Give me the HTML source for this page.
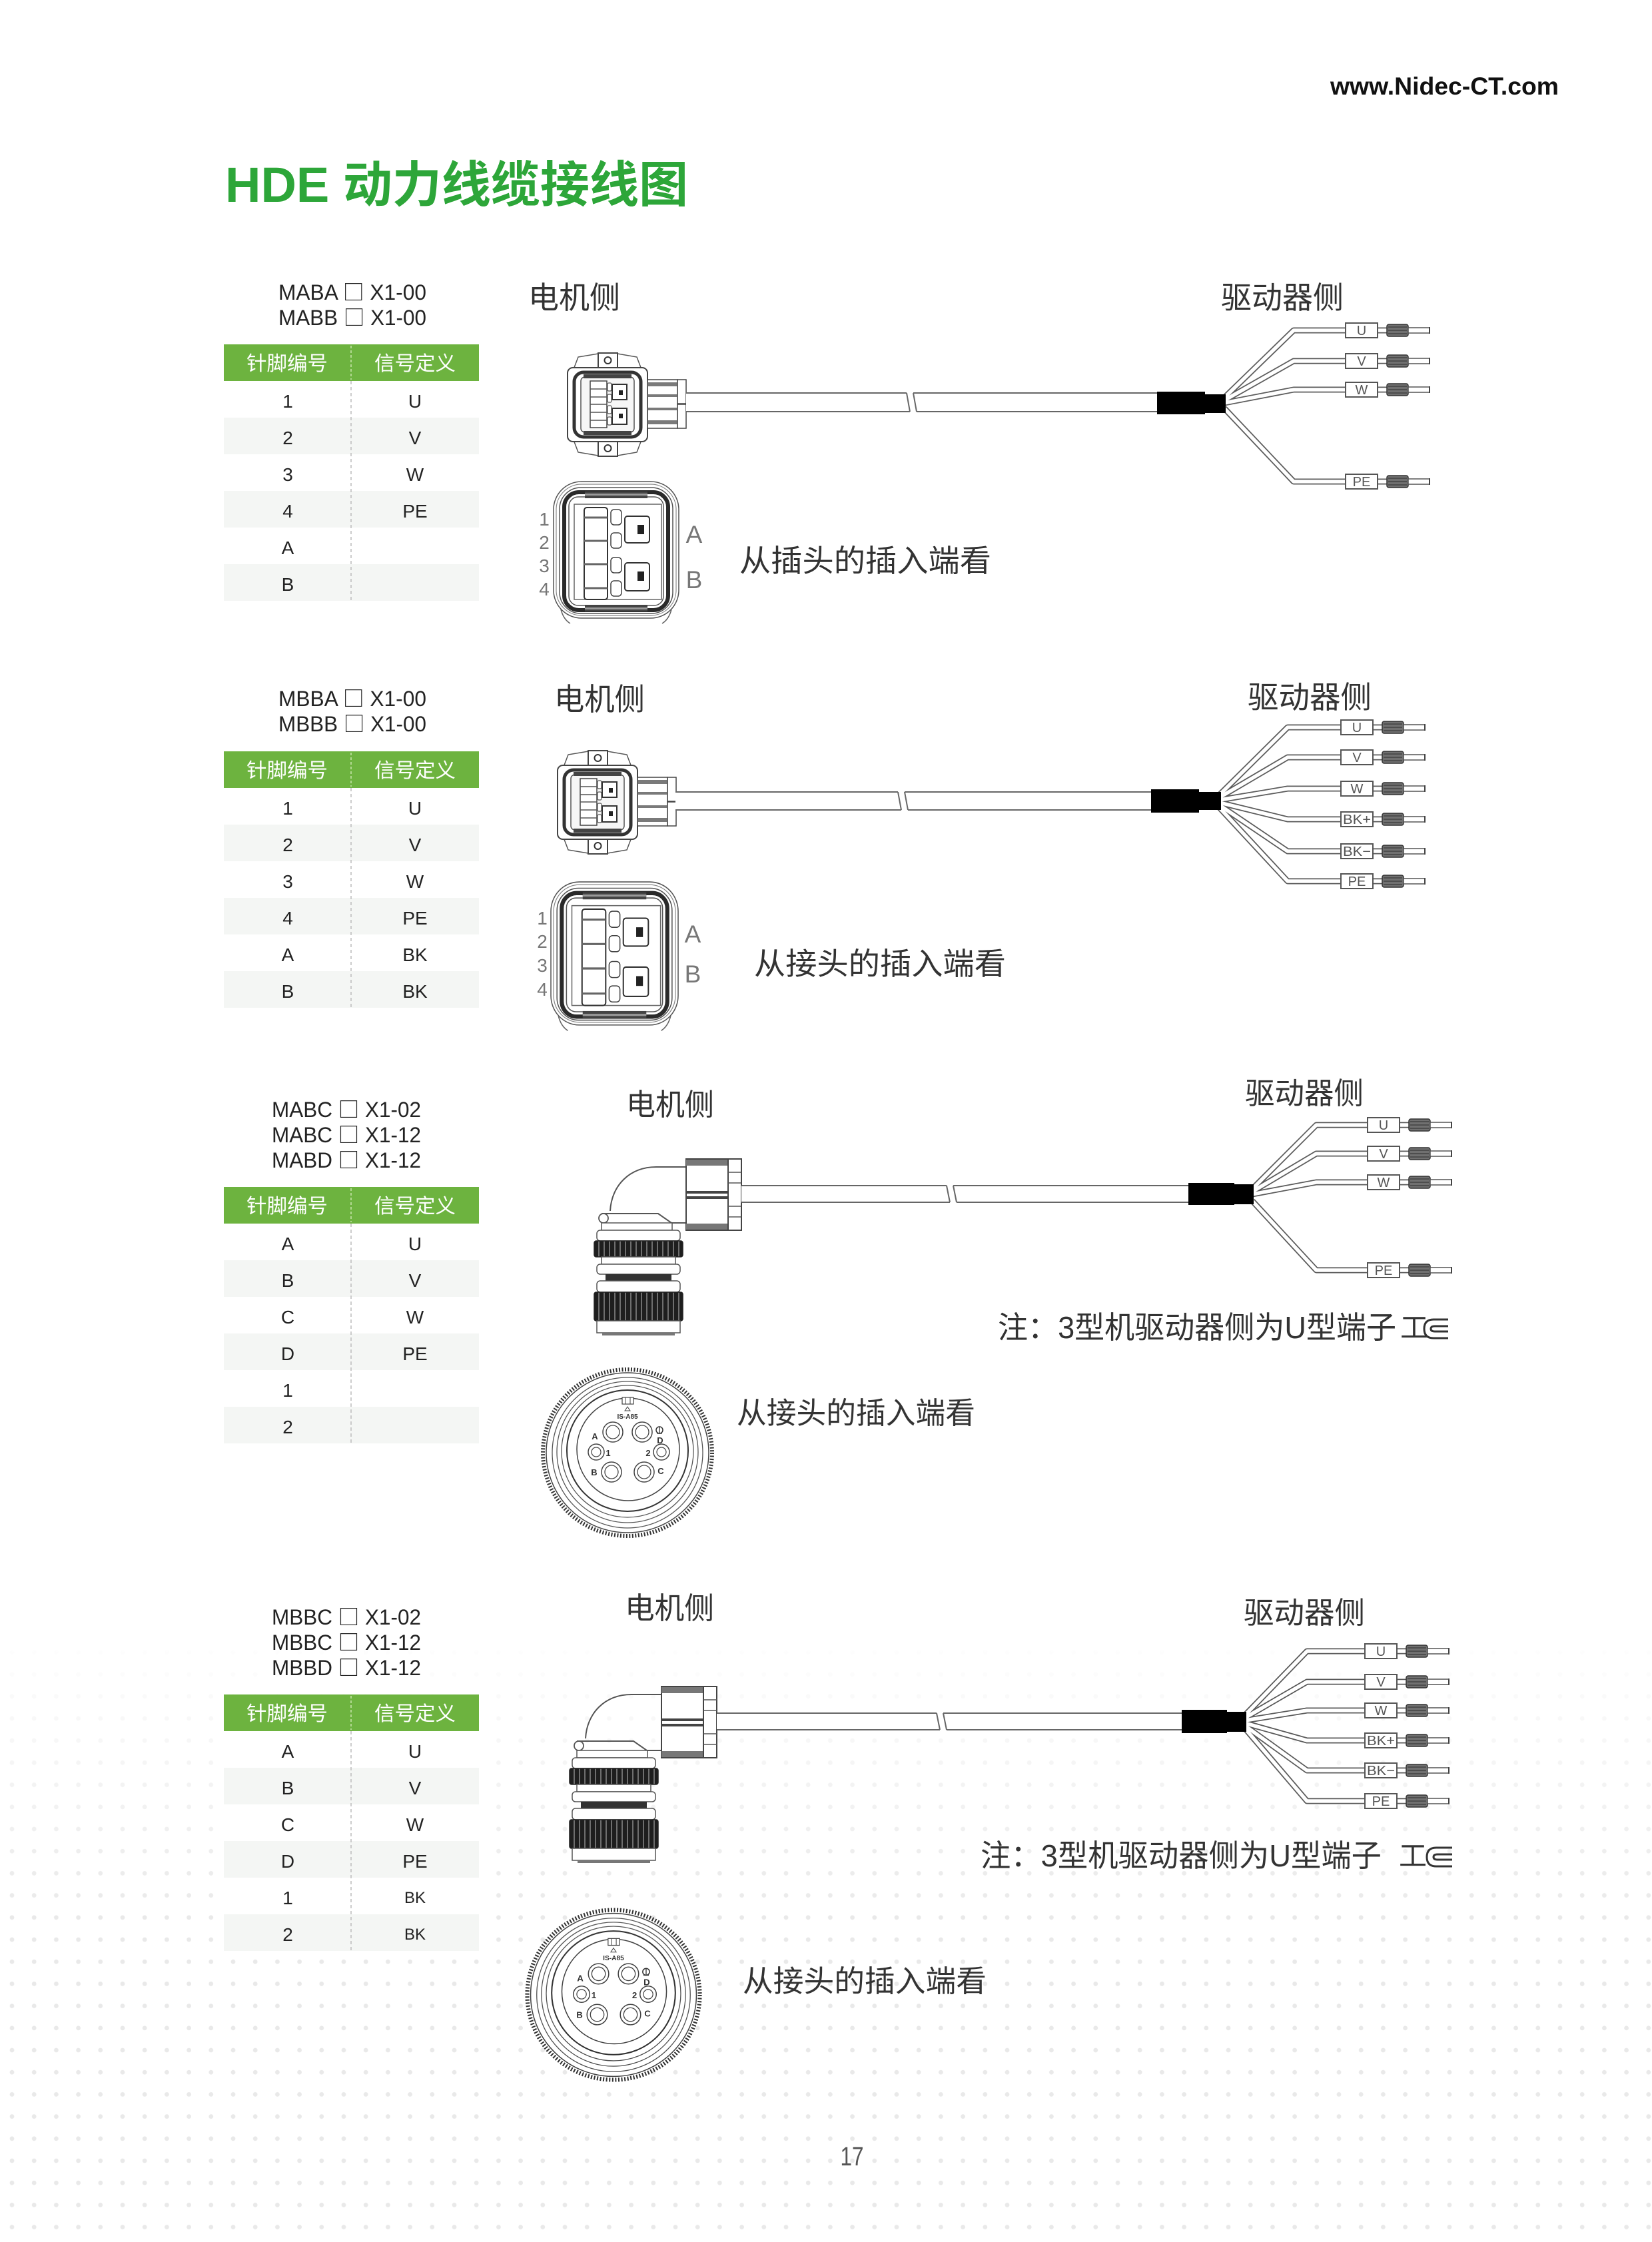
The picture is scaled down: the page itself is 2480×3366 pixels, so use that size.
<!DOCTYPE html>
<html>
<head>
<meta charset="utf-8">
<style>
html,body{margin:0;padding:0;background:#fff;}
svg{display:block;}
</style>
</head>
<body>
<svg xmlns="http://www.w3.org/2000/svg" width="2480" height="3366" viewBox="0 0 2480 3366" font-family="'Liberation Sans','Noto Sans CJK SC',sans-serif">
<defs>
  <pattern id="dots" x="0" y="0" width="33.2" height="33.2" patternUnits="userSpaceOnUse">
    <circle cx="18" cy="23.6" r="3.4" fill="#e9e9e9"/>
  </pattern>
  <linearGradient id="fg" x1="0" y1="2450" x2="0" y2="2880" gradientUnits="userSpaceOnUse">
    <stop offset="0" stop-color="#000"/>
    <stop offset="1" stop-color="#fff"/>
  </linearGradient>
  <mask id="fm"><rect x="0" y="2300" width="2480" height="1066" fill="url(#fg)"/></mask>
  <pattern id="knurl" x="0" y="0" width="8" height="10" patternUnits="userSpaceOnUse">
    <rect width="8" height="10" fill="#1e1e1e"/>
    <rect x="2" width="2" height="10" fill="#6e6e6e"/>
  </pattern>

  <g id="term">
    <rect x="0" y="-11" width="48" height="22" fill="#fff" stroke="#555" stroke-width="2"/>
    <rect x="62" y="-9" width="32" height="18" rx="3" fill="#707070" stroke="#333" stroke-width="1.5"/>
    <path d="M64,-5 H92 M64,0 H92 M64,5 H92" stroke="#3a3a3a" stroke-width="1.2"/>
    <rect x="94" y="-4" width="32" height="8" fill="#fff" stroke="#555" stroke-width="1.5"/>
    <path d="M126,-5 V5" stroke="#444" stroke-width="2"/>
  </g>

  <g id="sc">
    <path d="M860,557 L868,536 L898,531 L898,553 Z" fill="#fff" stroke="#555" stroke-width="1.5"/>
    <path d="M964,557 L956,536 L927,531 L927,553 Z" fill="#fff" stroke="#555" stroke-width="1.5"/>
    <rect x="898" y="530" width="29" height="24" fill="#fff" stroke="#444" stroke-width="2"/>
    <circle cx="912.5" cy="541" r="5" fill="none" stroke="#333" stroke-width="2"/>
    <path d="M860,658 L868,679 L898,684 L898,662 Z" fill="#fff" stroke="#555" stroke-width="1.5"/>
    <path d="M964,658 L956,679 L927,684 L927,662 Z" fill="#fff" stroke="#555" stroke-width="1.5"/>
    <rect x="898" y="661" width="29" height="24" fill="#fff" stroke="#444" stroke-width="2"/>
    <circle cx="912.5" cy="673" r="5" fill="none" stroke="#333" stroke-width="2"/>
    <rect x="852" y="552" width="120" height="111" rx="8" fill="#fff" stroke="#444" stroke-width="2"/>
    <rect x="862" y="559" width="100" height="97" rx="14" fill="#fff" stroke="#333" stroke-width="5"/>
    <rect x="872" y="566" width="80" height="83" rx="6" fill="#f6f6f6" stroke="#555" stroke-width="1.5"/>
    <rect x="876" y="562" width="72" height="6" fill="#444"/>
    <rect x="876" y="647" width="72" height="6" fill="#444"/>
    <rect x="886" y="572" width="25" height="70" fill="#fff" stroke="#444" stroke-width="1.5"/>
    <path d="M886,584 H911 M886,596 H911 M886,607 H911 M886,619 H911 M886,631 H911" stroke="#555" stroke-width="1.5"/>
    <rect x="912" y="575" width="6" height="12" rx="2" fill="#fff" stroke="#555" stroke-width="1.2"/>
    <rect x="912" y="592" width="6" height="12" rx="2" fill="#fff" stroke="#555" stroke-width="1.2"/>
    <rect x="912" y="609" width="6" height="12" rx="2" fill="#fff" stroke="#555" stroke-width="1.2"/>
    <rect x="912" y="626" width="6" height="12" rx="2" fill="#fff" stroke="#555" stroke-width="1.2"/>
    <rect x="919" y="577" width="22" height="23" fill="#fff" stroke="#333" stroke-width="2"/>
    <rect x="929" y="586" width="6" height="7" fill="#222"/>
    <rect x="919" y="613" width="22" height="24" fill="#fff" stroke="#333" stroke-width="2"/>
    <rect x="929" y="621" width="6" height="7" fill="#222"/>
    <rect x="972" y="570" width="45" height="73" fill="#fff" stroke="#444" stroke-width="1.5"/>
    <rect x="972" y="574" width="45" height="6" fill="#7a7a7a"/>
    <rect x="972" y="592" width="45" height="4" fill="#7a7a7a"/>
    <rect x="972" y="612" width="45" height="4" fill="#7a7a7a"/>
    <rect x="972" y="631" width="45" height="6" fill="#7a7a7a"/>
    <rect x="1017" y="570" width="13" height="36" fill="#fff" stroke="#444" stroke-width="1.5"/>
    <rect x="1017" y="607" width="13" height="36" fill="#fff" stroke="#444" stroke-width="1.5"/>
  </g>

  <g id="bf">
    <rect x="831" y="723" width="188" height="205" rx="42" fill="#fff" stroke="#555" stroke-width="1.5"/>
    <rect x="835" y="727" width="180" height="197" rx="38" fill="none" stroke="#888" stroke-width="1.2"/>
    <rect x="840" y="732" width="170" height="189" rx="32" fill="none" stroke="#555" stroke-width="1.5"/>
    <rect x="847" y="739" width="156" height="177" rx="22" fill="none" stroke="#2a2a2a" stroke-width="6"/>
    <rect x="854" y="746" width="142" height="163" rx="14" fill="none" stroke="#555" stroke-width="1.5"/>
    <rect x="878" y="738" width="94" height="10" fill="#444"/>
    <rect x="878" y="741" width="94" height="3" fill="#999"/>
    <rect x="878" y="908" width="94" height="10" fill="#444"/>
    <rect x="878" y="912" width="94" height="3" fill="#999"/>
    <rect x="862" y="757" width="131" height="143" fill="#fff" stroke="#666" stroke-width="1.5"/>
    <rect x="877" y="762" width="35" height="138" rx="4" fill="#fff" stroke="#333" stroke-width="2"/>
    <path d="M877,777 H912 M877,812 H912 M877,847 H912 M877,883 H912" stroke="#666" stroke-width="3"/>
    <rect x="917" y="765" width="16" height="23" rx="5" fill="#fff" stroke="#444" stroke-width="1.5"/>
    <rect x="917" y="800" width="16" height="23" rx="5" fill="#fff" stroke="#444" stroke-width="1.5"/>
    <rect x="917" y="837" width="16" height="23" rx="5" fill="#fff" stroke="#444" stroke-width="1.5"/>
    <rect x="917" y="872" width="16" height="23" rx="5" fill="#fff" stroke="#444" stroke-width="1.5"/>
    <rect x="938" y="775" width="37" height="40" rx="4" fill="#fff" stroke="#333" stroke-width="2"/>
    <rect x="957" y="788" width="10" height="14" fill="#222"/>
    <rect x="938" y="845" width="37" height="42" rx="4" fill="#fff" stroke="#333" stroke-width="2"/>
    <rect x="957" y="858" width="10" height="14" fill="#222"/>
    <path d="M842,915 Q846,930 856,936 M1008,915 Q1004,930 994,936" fill="none" stroke="#666" stroke-width="1.5"/>
  </g>

  <g id="el">
    <path d="M1031,1752 H985 C945,1752 918,1780 916,1818" fill="none" stroke="#555" stroke-width="2"/>
    <circle cx="906" cy="1829" r="7" fill="#fff" stroke="#555" stroke-width="1.8"/>
    <path d="M903,1822 H988 L1008,1836 H1031" fill="none" stroke="#555" stroke-width="2"/>
    <rect x="903" y="1836" width="106" height="11" fill="#fff" stroke="#555" stroke-width="1.5"/>
    <rect x="1030" y="1740" width="63" height="107" fill="#fff" stroke="#444" stroke-width="2"/>
    <rect x="1030" y="1741" width="63" height="9" fill="#777"/>
    <rect x="1030" y="1788" width="63" height="4" fill="#444"/>
    <rect x="1030" y="1796" width="63" height="4" fill="#444"/>
    <rect x="1030" y="1837" width="63" height="9" fill="#777"/>
    <rect x="1093" y="1740" width="20" height="107" fill="#fff" stroke="#444" stroke-width="2"/>
    <path d="M1093,1760 H1113 M1093,1776 H1113 M1093,1811 H1113 M1093,1827 H1113" stroke="#555" stroke-width="1.5"/>
    <rect x="896" y="1847" width="125" height="16" rx="5" fill="#fff" stroke="#555" stroke-width="1.5"/>
    <rect x="892" y="1863" width="133" height="24" rx="3" fill="url(#knurl)" stroke="#222" stroke-width="1.5"/>
    <rect x="903" y="1887" width="111" height="11" fill="#fff" stroke="#555" stroke-width="1.5"/>
    <rect x="896" y="1898" width="125" height="15" rx="5" fill="#fff" stroke="#555" stroke-width="1.5"/>
    <rect x="909" y="1913" width="99" height="10" fill="#333"/>
    <rect x="896" y="1923" width="125" height="17" rx="5" fill="#fff" stroke="#555" stroke-width="1.5"/>
    <rect x="892" y="1940" width="133" height="43" rx="3" fill="url(#knurl)" stroke="#222" stroke-width="1.5"/>
    <rect x="896" y="1983" width="125" height="18" fill="#fff" stroke="#555" stroke-width="1.5"/>
    <rect x="904" y="2001" width="109" height="4" fill="#777"/>
  </g>

  <g id="rf">
    <ellipse cx="942" cy="2181" rx="127" ry="125" fill="#fff" stroke="#333" stroke-width="6" stroke-dasharray="2 2.5"/>
    <ellipse cx="942" cy="2181" rx="122" ry="120" fill="none" stroke="#444" stroke-width="1.5"/>
    <circle cx="942" cy="2181" r="113" fill="none" stroke="#555" stroke-width="1.3"/>
    <circle cx="942" cy="2180" r="106" fill="none" stroke="#555" stroke-width="1.3"/>
    <circle cx="942" cy="2179" r="99" fill="none" stroke="#555" stroke-width="1.3"/>
    <circle cx="942" cy="2178" r="91" fill="none" stroke="#333" stroke-width="2"/>
    <circle cx="943" cy="2176" r="77" fill="none" stroke="#444" stroke-width="1.5"/>
    <rect x="934" y="2098" width="17" height="10" fill="#fff" stroke="#444" stroke-width="1.2"/>
    <path d="M939,2098 V2108 M946,2098 V2108" stroke="#444" stroke-width="1"/>
    <path d="M942,2112 L938,2118 H946 Z" fill="none" stroke="#444" stroke-width="1"/>
    <circle cx="920" cy="2150" r="15" fill="#fff" stroke="#444" stroke-width="1.5"/>
    <circle cx="920" cy="2150" r="10" fill="none" stroke="#444" stroke-width="1.3"/>
    <circle cx="964" cy="2150" r="15" fill="#fff" stroke="#444" stroke-width="1.5"/>
    <circle cx="964" cy="2150" r="10" fill="none" stroke="#444" stroke-width="1.3"/>
    <circle cx="918" cy="2210" r="15" fill="#fff" stroke="#444" stroke-width="1.5"/>
    <circle cx="918" cy="2210" r="10" fill="none" stroke="#444" stroke-width="1.3"/>
    <circle cx="967" cy="2210" r="15" fill="#fff" stroke="#444" stroke-width="1.5"/>
    <circle cx="967" cy="2210" r="10" fill="none" stroke="#444" stroke-width="1.3"/>
    <circle cx="895" cy="2180" r="12" fill="#fff" stroke="#444" stroke-width="1.5"/>
    <circle cx="895" cy="2180" r="7" fill="none" stroke="#444" stroke-width="1.2"/>
    <circle cx="993" cy="2180" r="12" fill="#fff" stroke="#444" stroke-width="1.5"/>
    <circle cx="993" cy="2180" r="7" fill="none" stroke="#444" stroke-width="1.2"/>
    <circle cx="990" cy="2147" r="5" fill="none" stroke="#333" stroke-width="1.5"/>
    <path d="M990,2142 V2152 M986,2152 H994" stroke="#333" stroke-width="1.3"/>
  </g>
</defs>

<!-- dotted background -->
<rect x="0" y="2300" width="2480" height="1066" fill="url(#dots)" mask="url(#fm)"/>

<!-- header -->
<text x="1997" y="142" font-size="37" font-weight="bold" fill="#111" textLength="343" lengthAdjust="spacingAndGlyphs">www.Nidec-CT.com</text>
<text x="338" y="303" font-size="74" font-weight="bold" fill="#2da639" textLength="695" lengthAdjust="spacingAndGlyphs">HDE 动力线缆接线图</text>

<!-- ================= SECTION 1 ================= -->
<text x="529" y="450" font-size="32" fill="#222" text-anchor="middle" textLength="222" lengthAdjust="spacingAndGlyphs">MABA <tspan font-family="'Noto Sans CJK SC',sans-serif">□</tspan> X1-00</text>
<text x="529" y="488" font-size="32" fill="#222" text-anchor="middle" textLength="222" lengthAdjust="spacingAndGlyphs">MABB <tspan font-family="'Noto Sans CJK SC',sans-serif">□</tspan> X1-00</text>

<rect x="336" y="572" width="383" height="330" fill="#fff"/>
<rect x="336" y="517" width="383" height="55" fill="#6db33f"/>
<rect x="336" y="627" width="383" height="55" fill="#f4f6f4"/>
<rect x="336" y="737" width="383" height="55" fill="#f4f6f4"/>
<rect x="336" y="847" width="383" height="55" fill="#f4f6f4"/>
<line x1="527" y1="519" x2="527" y2="570" stroke="#c9e4ad" stroke-width="1.5" stroke-dasharray="4 3"/>
<line x1="527" y1="572" x2="527" y2="902" stroke="#bbb" stroke-width="1.5" stroke-dasharray="5 4"/>
<g font-size="30" fill="#fff" text-anchor="middle">
  <text x="431" y="556" textLength="122" lengthAdjust="spacingAndGlyphs">针脚编号</text>
  <text x="623" y="556" textLength="122" lengthAdjust="spacingAndGlyphs">信号定义</text>
</g>
<g font-size="28" fill="#222" text-anchor="middle">
  <text x="432" y="612">1</text><text x="623" y="612">U</text>
  <text x="432" y="667">2</text><text x="623" y="667">V</text>
  <text x="432" y="722">3</text><text x="623" y="722">W</text>
  <text x="432" y="777">4</text><text x="623" y="777">PE</text>
  <text x="432" y="832">A</text>
  <text x="432" y="887">B</text>
</g>

<text x="793" y="463" font-size="46" fill="#333" textLength="138" lengthAdjust="spacingAndGlyphs">电机侧</text>
<text x="1833" y="463" font-size="46" fill="#333" textLength="184" lengthAdjust="spacingAndGlyphs">驱动器侧</text>

<use href="#sc"/>
<rect x="1030" y="590" width="710" height="28" fill="#fff"/>
<path d="M1030,590 H1361 M1030,618 H1366 M1371,590 H1740 M1376,618 H1740 M1361,590 L1366,618 M1371,590 L1376,618" stroke="#666" stroke-width="2" fill="none"/>
<g fill="none" stroke-linejoin="round">
  <g stroke="#5a5a5a" stroke-width="9">
    <path d="M1838,597 L1942,496 H2082"/>
    <path d="M1838,601 L1942,542 H2082"/>
    <path d="M1838,605 L1942,585 H2082"/>
    <path d="M1838,613 L1942,723 H2082"/>
  </g>
  <g stroke="#fff" stroke-width="5.5">
    <path d="M1838,597 L1942,496 H2082"/>
    <path d="M1838,601 L1942,542 H2082"/>
    <path d="M1838,605 L1942,585 H2082"/>
    <path d="M1838,613 L1942,723 H2082"/>
  </g>
</g>
<rect x="1737" y="588" width="72" height="34" fill="#000"/>
<rect x="1807" y="592" width="33" height="28" fill="#000"/>
<use href="#term" x="2020" y="496"/>
<use href="#term" x="2020" y="542"/>
<use href="#term" x="2020" y="585"/>
<use href="#term" x="2020" y="723"/>
<g font-size="20" fill="#555" text-anchor="middle">
  <text x="2044" y="503">U</text>
  <text x="2044" y="549">V</text>
  <text x="2044" y="592">W</text>
  <text x="2044" y="730">PE</text>
</g>

<use href="#bf"/>
<g font-size="28" fill="#777" text-anchor="middle">
  <text x="817" y="789">1</text>
  <text x="817" y="824">2</text>
  <text x="817" y="859">3</text>
  <text x="817" y="894">4</text>
</g>
<g font-size="37" fill="#777" text-anchor="middle">
  <text x="1042" y="815">A</text>
  <text x="1042" y="883">B</text>
</g>
<text x="1110" y="858" font-size="46" fill="#333" textLength="378" lengthAdjust="spacingAndGlyphs">从插头的插入端看</text>

<!-- ================= SECTION 2 ================= -->
<text x="529" y="1060" font-size="32" fill="#222" text-anchor="middle" textLength="222" lengthAdjust="spacingAndGlyphs">MBBA <tspan font-family="'Noto Sans CJK SC',sans-serif">□</tspan> X1-00</text>
<text x="529" y="1098" font-size="32" fill="#222" text-anchor="middle" textLength="222" lengthAdjust="spacingAndGlyphs">MBBB <tspan font-family="'Noto Sans CJK SC',sans-serif">□</tspan> X1-00</text>

<rect x="336" y="1183" width="383" height="330" fill="#fff"/>
<rect x="336" y="1128" width="383" height="55" fill="#6db33f"/>
<rect x="336" y="1238" width="383" height="55" fill="#f4f6f4"/>
<rect x="336" y="1348" width="383" height="55" fill="#f4f6f4"/>
<rect x="336" y="1458" width="383" height="55" fill="#f4f6f4"/>
<line x1="527" y1="1130" x2="527" y2="1181" stroke="#c9e4ad" stroke-width="1.5" stroke-dasharray="4 3"/>
<line x1="527" y1="1183" x2="527" y2="1513" stroke="#bbb" stroke-width="1.5" stroke-dasharray="5 4"/>
<g font-size="30" fill="#fff" text-anchor="middle">
  <text x="431" y="1167" textLength="122" lengthAdjust="spacingAndGlyphs">针脚编号</text>
  <text x="623" y="1167" textLength="122" lengthAdjust="spacingAndGlyphs">信号定义</text>
</g>
<g font-size="28" fill="#222" text-anchor="middle">
  <text x="432" y="1223">1</text><text x="623" y="1223">U</text>
  <text x="432" y="1278">2</text><text x="623" y="1278">V</text>
  <text x="432" y="1333">3</text><text x="623" y="1333">W</text>
  <text x="432" y="1388">4</text><text x="623" y="1388">PE</text>
  <text x="432" y="1443">A</text><text x="623" y="1443">BK</text>
  <text x="432" y="1498">B</text><text x="623" y="1498">BK</text>
</g>

<text x="832" y="1066" font-size="46" fill="#333" textLength="136" lengthAdjust="spacingAndGlyphs">电机侧</text>
<text x="1873" y="1063" font-size="46" fill="#333" textLength="186" lengthAdjust="spacingAndGlyphs">驱动器侧</text>

<use href="#sc" transform="translate(-15,597)"/>
<rect x="1014" y="1189" width="716" height="27" fill="#fff"/>
<path d="M1014,1189 H1348 M1014,1216 H1353 M1358,1189 H1730 M1363,1216 H1730 M1348,1189 L1353,1216 M1358,1189 L1363,1216" stroke="#666" stroke-width="2" fill="none"/>
<g fill="none" stroke-linejoin="round">
  <g stroke="#5a5a5a" stroke-width="9">
    <path d="M1831,1193 L1933,1092 H2075"/>
    <path d="M1831,1197 L1933,1137 H2075"/>
    <path d="M1831,1201 L1933,1184 H2075"/>
    <path d="M1831,1205 L1933,1230 H2075"/>
    <path d="M1831,1209 L1933,1278 H2075"/>
    <path d="M1831,1213 L1933,1323 H2075"/>
  </g>
  <g stroke="#fff" stroke-width="5.5">
    <path d="M1831,1193 L1933,1092 H2075"/>
    <path d="M1831,1197 L1933,1137 H2075"/>
    <path d="M1831,1201 L1933,1184 H2075"/>
    <path d="M1831,1205 L1933,1230 H2075"/>
    <path d="M1831,1209 L1933,1278 H2075"/>
    <path d="M1831,1213 L1933,1323 H2075"/>
  </g>
</g>
<rect x="1728" y="1185" width="72" height="35" fill="#000"/>
<rect x="1798" y="1189" width="35" height="27" fill="#000"/>
<use href="#term" x="2013" y="1092"/>
<use href="#term" x="2013" y="1137"/>
<use href="#term" x="2013" y="1184"/>
<use href="#term" x="2013" y="1230"/>
<use href="#term" x="2013" y="1278"/>
<use href="#term" x="2013" y="1323"/>
<g font-size="20" fill="#555" text-anchor="middle">
  <text x="2037" y="1099">U</text>
  <text x="2037" y="1144">V</text>
  <text x="2037" y="1191">W</text>
  <text x="2037" y="1237" textLength="42" lengthAdjust="spacingAndGlyphs">BK+</text>
  <text x="2037" y="1285" textLength="42" lengthAdjust="spacingAndGlyphs">BK−</text>
  <text x="2037" y="1330">PE</text>
</g>

<use href="#bf" transform="translate(826,1323) scale(1.016,1.048) translate(-830,-722)"/>
<g font-size="28" fill="#777" text-anchor="middle">
  <text x="814" y="1388">1</text>
  <text x="814" y="1423">2</text>
  <text x="814" y="1459">3</text>
  <text x="814" y="1495">4</text>
</g>
<g font-size="37" fill="#777" text-anchor="middle">
  <text x="1040" y="1415">A</text>
  <text x="1040" y="1475">B</text>
</g>
<text x="1132" y="1463" font-size="46" fill="#333" textLength="378" lengthAdjust="spacingAndGlyphs">从接头的插入端看</text>

<!-- ================= SECTION 3 ================= -->
<text x="520" y="1677" font-size="32" fill="#222" text-anchor="middle" textLength="224" lengthAdjust="spacingAndGlyphs">MABC <tspan font-family="'Noto Sans CJK SC',sans-serif">□</tspan> X1-02</text>
<text x="520" y="1715" font-size="32" fill="#222" text-anchor="middle" textLength="224" lengthAdjust="spacingAndGlyphs">MABC <tspan font-family="'Noto Sans CJK SC',sans-serif">□</tspan> X1-12</text>
<text x="520" y="1753" font-size="32" fill="#222" text-anchor="middle" textLength="224" lengthAdjust="spacingAndGlyphs">MABD <tspan font-family="'Noto Sans CJK SC',sans-serif">□</tspan> X1-12</text>

<rect x="336" y="1837" width="383" height="330" fill="#fff"/>
<rect x="336" y="1782" width="383" height="55" fill="#6db33f"/>
<rect x="336" y="1892" width="383" height="55" fill="#f4f6f4"/>
<rect x="336" y="2002" width="383" height="55" fill="#f4f6f4"/>
<rect x="336" y="2112" width="383" height="55" fill="#f4f6f4"/>
<line x1="527" y1="1784" x2="527" y2="1835" stroke="#c9e4ad" stroke-width="1.5" stroke-dasharray="4 3"/>
<line x1="527" y1="1837" x2="527" y2="2167" stroke="#bbb" stroke-width="1.5" stroke-dasharray="5 4"/>
<g font-size="30" fill="#fff" text-anchor="middle">
  <text x="431" y="1821" textLength="122" lengthAdjust="spacingAndGlyphs">针脚编号</text>
  <text x="623" y="1821" textLength="122" lengthAdjust="spacingAndGlyphs">信号定义</text>
</g>
<g font-size="28" fill="#222" text-anchor="middle">
  <text x="432" y="1877">A</text><text x="623" y="1877">U</text>
  <text x="432" y="1932">B</text><text x="623" y="1932">V</text>
  <text x="432" y="1987">C</text><text x="623" y="1987">W</text>
  <text x="432" y="2042">D</text><text x="623" y="2042">PE</text>
  <text x="432" y="2097">1</text>
  <text x="432" y="2152">2</text>
</g>

<text x="940" y="1674" font-size="45" fill="#333" textLength="132" lengthAdjust="spacingAndGlyphs">电机侧</text>
<text x="1869" y="1657" font-size="45" fill="#333" textLength="178" lengthAdjust="spacingAndGlyphs">驱动器侧</text>

<use href="#el"/>
<rect x="1113" y="1780" width="673" height="25" fill="#fff"/>
<path d="M1113,1780 H1421 M1113,1805 H1426 M1431,1780 H1786 M1436,1805 H1786 M1421,1780 L1426,1805 M1431,1780 L1436,1805" stroke="#666" stroke-width="2" fill="none"/>
<g fill="none" stroke-linejoin="round">
  <g stroke="#5a5a5a" stroke-width="9">
    <path d="M1880,1785 L1976,1689 H2115"/>
    <path d="M1880,1789 L1976,1732 H2115"/>
    <path d="M1880,1793 L1976,1775 H2115"/>
    <path d="M1880,1803 L1976,1907 H2115"/>
  </g>
  <g stroke="#fff" stroke-width="5.5">
    <path d="M1880,1785 L1976,1689 H2115"/>
    <path d="M1880,1789 L1976,1732 H2115"/>
    <path d="M1880,1793 L1976,1775 H2115"/>
    <path d="M1880,1803 L1976,1907 H2115"/>
  </g>
</g>
<rect x="1784" y="1776" width="69" height="33" fill="#000"/>
<rect x="1851" y="1778" width="31" height="30" fill="#000"/>
<use href="#term" x="2053" y="1689"/>
<use href="#term" x="2053" y="1732"/>
<use href="#term" x="2053" y="1775"/>
<use href="#term" x="2053" y="1907"/>
<g font-size="20" fill="#555" text-anchor="middle">
  <text x="2077" y="1696">U</text>
  <text x="2077" y="1739">V</text>
  <text x="2077" y="1782">W</text>
  <text x="2077" y="1914">PE</text>
</g>

<text x="1498" y="2009" font-size="46" fill="#333" textLength="598" lengthAdjust="spacingAndGlyphs">注：3型机驱动器侧为U型端子</text>
<text x="2102" y="2008" font-size="42" fill="#333">工</text>
<path d="M2174,1981 H2152 Q2138,1981 2138,1995 Q2138,2009 2152,2009 H2174 M2174,1991 H2154 Q2148,1991 2148,1995 Q2148,1999 2154,1999 H2174" stroke="#333" stroke-width="3" fill="none"/>

<use href="#rf"/>
<g font-size="13" font-weight="bold" fill="#333" text-anchor="middle">
  <text x="942" y="2130" font-size="10">IS-A85</text>
  <text x="893" y="2161">A</text>
  <text x="913" y="2186">1</text>
  <text x="973" y="2186">2</text>
  <text x="892" y="2215">B</text>
  <text x="992" y="2213">C</text>
  <text x="991" y="2167">D</text>
</g>
<text x="1106" y="2137" font-size="45" fill="#333" textLength="358" lengthAdjust="spacingAndGlyphs">从接头的插入端看</text>

<!-- ================= SECTION 4 ================= -->
<text x="520" y="2439" font-size="32" fill="#222" text-anchor="middle" textLength="224" lengthAdjust="spacingAndGlyphs">MBBC <tspan font-family="'Noto Sans CJK SC',sans-serif">□</tspan> X1-02</text>
<text x="520" y="2477" font-size="32" fill="#222" text-anchor="middle" textLength="224" lengthAdjust="spacingAndGlyphs">MBBC <tspan font-family="'Noto Sans CJK SC',sans-serif">□</tspan> X1-12</text>
<text x="520" y="2515" font-size="32" fill="#222" text-anchor="middle" textLength="224" lengthAdjust="spacingAndGlyphs">MBBD <tspan font-family="'Noto Sans CJK SC',sans-serif">□</tspan> X1-12</text>

<rect x="336" y="2599" width="383" height="330" fill="#fff"/>
<rect x="336" y="2544" width="383" height="55" fill="#6db33f"/>
<rect x="336" y="2654" width="383" height="55" fill="#f4f6f4"/>
<rect x="336" y="2764" width="383" height="55" fill="#f4f6f4"/>
<rect x="336" y="2874" width="383" height="55" fill="#f4f6f4"/>
<line x1="527" y1="2546" x2="527" y2="2597" stroke="#c9e4ad" stroke-width="1.5" stroke-dasharray="4 3"/>
<line x1="527" y1="2599" x2="527" y2="2929" stroke="#bbb" stroke-width="1.5" stroke-dasharray="5 4"/>
<g font-size="30" fill="#fff" text-anchor="middle">
  <text x="431" y="2583" textLength="122" lengthAdjust="spacingAndGlyphs">针脚编号</text>
  <text x="623" y="2583" textLength="122" lengthAdjust="spacingAndGlyphs">信号定义</text>
</g>
<g font-size="28" fill="#222" text-anchor="middle">
  <text x="432" y="2639">A</text><text x="623" y="2639">U</text>
  <text x="432" y="2694">B</text><text x="623" y="2694">V</text>
  <text x="432" y="2749">C</text><text x="623" y="2749">W</text>
  <text x="432" y="2804">D</text><text x="623" y="2804">PE</text>
  <text x="432" y="2859">1</text><text x="623" y="2857" font-size="24">BK</text>
  <text x="432" y="2914">2</text><text x="623" y="2912" font-size="24">BK</text>
</g>

<g transform="translate(0,-10)">
<text x="938" y="2440" font-size="45" fill="#333" textLength="134" lengthAdjust="spacingAndGlyphs">电机侧</text>
<text x="1867" y="2447" font-size="45" fill="#333" textLength="182" lengthAdjust="spacingAndGlyphs">驱动器侧</text>

<use href="#el" transform="translate(-37,802)"/>
<rect x="1076" y="2582" width="700" height="25" fill="#fff"/>
<path d="M1076,2582 H1406 M1076,2607 H1411 M1416,2582 H1776 M1421,2607 H1776 M1406,2582 L1411,2607 M1416,2582 L1421,2607" stroke="#666" stroke-width="2" fill="none"/>
<g fill="none" stroke-linejoin="round">
  <g stroke="#5a5a5a" stroke-width="9">
    <path d="M1869,2585 L1962,2489 H2111"/>
    <path d="M1869,2589 L1962,2535 H2111"/>
    <path d="M1869,2593 L1962,2578 H2111"/>
    <path d="M1869,2597 L1962,2623 H2111"/>
    <path d="M1869,2601 L1962,2668 H2111"/>
    <path d="M1869,2605 L1962,2714 H2111"/>
  </g>
  <g stroke="#fff" stroke-width="5.5">
    <path d="M1869,2585 L1962,2489 H2111"/>
    <path d="M1869,2589 L1962,2535 H2111"/>
    <path d="M1869,2593 L1962,2578 H2111"/>
    <path d="M1869,2597 L1962,2623 H2111"/>
    <path d="M1869,2601 L1962,2668 H2111"/>
    <path d="M1869,2605 L1962,2714 H2111"/>
  </g>
</g>
<rect x="1774" y="2577" width="68" height="35" fill="#000"/>
<rect x="1840" y="2580" width="31" height="30" fill="#000"/>
<use href="#term" x="2049" y="2489"/>
<use href="#term" x="2049" y="2535"/>
<use href="#term" x="2049" y="2578"/>
<use href="#term" x="2049" y="2623"/>
<use href="#term" x="2049" y="2668"/>
<use href="#term" x="2049" y="2714"/>
<g font-size="20" fill="#555" text-anchor="middle">
  <text x="2073" y="2496">U</text>
  <text x="2073" y="2542">V</text>
  <text x="2073" y="2585">W</text>
  <text x="2073" y="2630" textLength="42" lengthAdjust="spacingAndGlyphs">BK+</text>
  <text x="2073" y="2675" textLength="42" lengthAdjust="spacingAndGlyphs">BK−</text>
  <text x="2073" y="2721">PE</text>
</g>

<text x="1472" y="2812" font-size="46" fill="#333" textLength="602" lengthAdjust="spacingAndGlyphs">注：3型机驱动器侧为U型端子</text>
<text x="2100" y="2811" font-size="42" fill="#333">工</text>
<path d="M2180,2784 H2156 Q2142,2784 2142,2798 Q2142,2812 2156,2812 H2180 M2180,2794 H2158 Q2152,2794 2152,2798 Q2152,2802 2158,2802 H2180" stroke="#333" stroke-width="3" fill="none"/>

<use href="#rf" transform="translate(921,3005) scale(1.02) translate(-942,-2181)"/>
<g transform="translate(921,3005) scale(1.02) translate(-942,-2181)" font-size="13" font-weight="bold" fill="#333" text-anchor="middle">
  <text x="942" y="2130" font-size="10">IS-A85</text>
  <text x="893" y="2161">A</text>
  <text x="913" y="2186">1</text>
  <text x="973" y="2186">2</text>
  <text x="892" y="2215">B</text>
  <text x="992" y="2213">C</text>
  <text x="991" y="2167">D</text>
</g>
<text x="1115" y="3000" font-size="45" fill="#333" textLength="366" lengthAdjust="spacingAndGlyphs">从接头的插入端看</text>
</g>

<!-- page number -->
<text x="1279" y="3251" font-size="40" fill="#555" text-anchor="middle" textLength="35" lengthAdjust="spacingAndGlyphs">17</text>
</svg>
</body>
</html>
